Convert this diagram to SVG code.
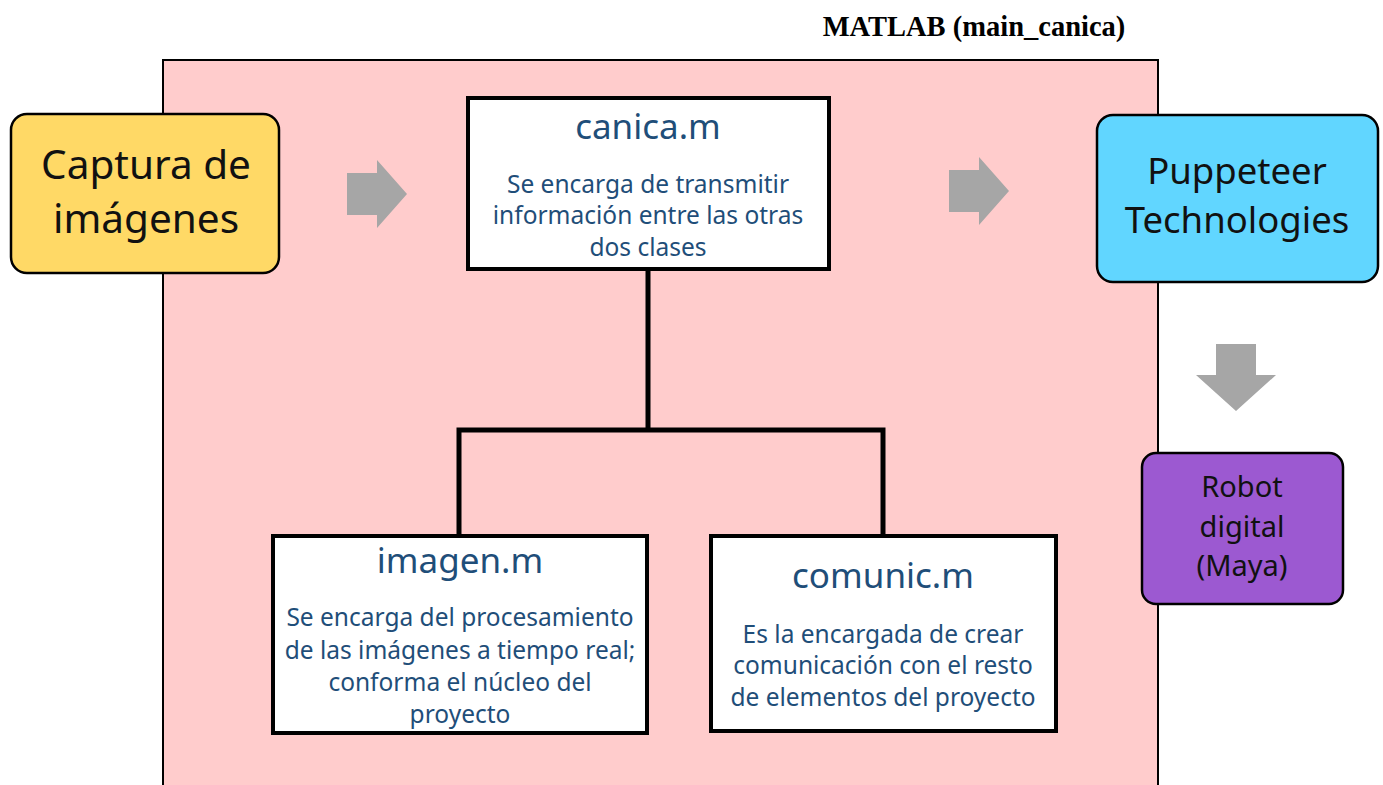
<svg xmlns="http://www.w3.org/2000/svg" width="1383" height="785" viewBox="0 0 1383 785">
<style>
.cls{fill:#fff;stroke:#000;stroke-width:4}
.title{font-family:"Noto Sans","Open Sans",sans-serif;font-size:35px;fill:#1F4E79;text-anchor:middle}
.body{font-family:"Noto Sans","Open Sans",sans-serif;font-size:24.5px;fill:#1F4E79;text-anchor:middle}
.big{font-family:"Noto Sans","Open Sans",sans-serif;fill:#111;text-anchor:middle}
.arrow{fill:#A6A6A6}
.conn{fill:none;stroke:#000;stroke-width:5;stroke-linejoin:miter}
</style>
<rect width="1383" height="785" fill="#fff"/>
<g id="matlab">
<rect x="163" y="60" width="995" height="740" fill="#FFCCCC" stroke="#000" stroke-width="2"/>
<text x="974" y="36" font-family="Liberation Serif,serif" font-weight="bold" font-size="28.5" text-anchor="middle" fill="#000">MATLAB (main_canica)</text>
</g>
<g id="connectors">
<path class="conn" d="M648 270 V430 M459 536 V430 H883 V536"/>
<polygon class="arrow" points="347,173 377,173 377,160 407,194 377,228 377,215 347,215"/>
<polygon class="arrow" points="949,170 979,170 979,157 1009,191 979,225 979,212 949,212"/>
<polygon class="arrow" points="1216,344 1256,344 1256,375 1276,375 1236,411 1196,375 1216,375"/>
</g>
<g id="captura">
<rect x="11" y="114" width="268" height="159" rx="16" fill="#FFD966" stroke="#000" stroke-width="2.5"/>
<text class="big" font-size="40.5" x="146" y="179">Captura de</text>
<text class="big" font-size="40.5" x="146" y="233">imágenes</text>
</g>
<g id="canica">
<rect class="cls" x="468" y="98" width="361" height="171"/>
<text class="title" x="648" y="139">canica.m</text>
<text class="body" x="648" y="193">Se encarga de transmitir</text>
<text class="body" x="648" y="224">información entre las otras</text>
<text class="body" x="648" y="256">dos clases</text>
</g>
<g id="imagen">
<rect class="cls" x="273" y="536" width="374" height="197"/>
<text class="title" x="460" y="573">imagen.m</text>
<text class="body" x="460" y="626">Se encarga del procesamiento</text>
<text class="body" x="460" y="659">de las imágenes a tiempo real;</text>
<text class="body" x="460" y="691">conforma el núcleo del</text>
<text class="body" x="460" y="723">proyecto</text>
</g>
<g id="comunic">
<rect class="cls" x="711" y="536" width="345" height="195"/>
<text class="title" x="883" y="588">comunic.m</text>
<text class="body" x="883" y="643">Es la encargada de crear</text>
<text class="body" x="883" y="674">comunicación con el resto</text>
<text class="body" x="883" y="706">de elementos del proyecto</text>
</g>
<g id="puppeteer">
<rect x="1097" y="115" width="281" height="167" rx="16" fill="#61D6FF" stroke="#000" stroke-width="2.5"/>
<text class="big" font-size="36.5" x="1237" y="184">Puppeteer</text>
<text class="big" font-size="36.5" x="1237" y="233">Technologies</text>
</g>
<g id="robot">
<rect x="1142" y="453" width="201" height="151" rx="14" fill="#9C59D1" stroke="#000" stroke-width="2.5"/>
<text class="big" font-size="29" x="1242" y="497">Robot</text>
<text class="big" font-size="29" x="1242" y="537">digital</text>
<text class="big" font-size="29" x="1242" y="576">(Maya)</text>
</g>
</svg>
